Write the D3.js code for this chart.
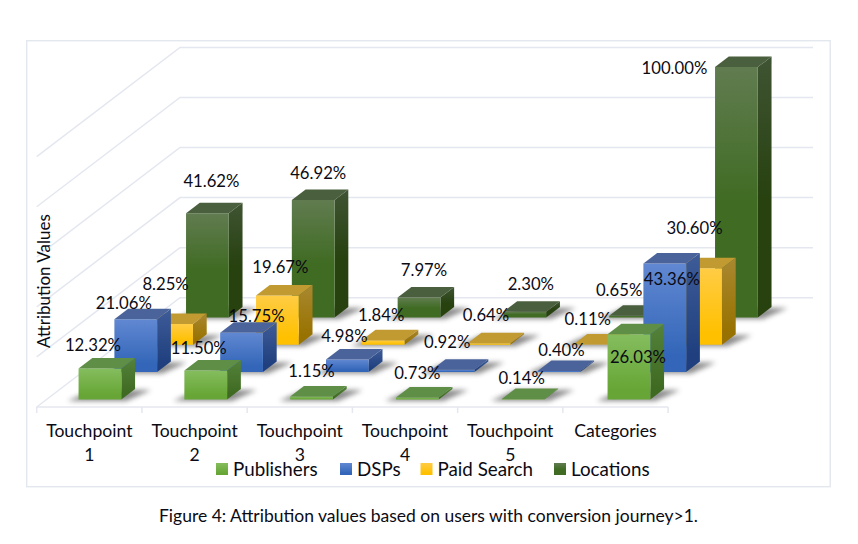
<!DOCTYPE html>
<html><head><meta charset="utf-8">
<script src="https://cdn.jsdelivr.net/npm/d3@7"></script>
<style>html,body{margin:0;background:#fff}svg{display:block}text{font-family:Lato,"Open Sans",sans-serif;fill:#0b0b14}</style>
</head><body><svg id="c" width="858" height="544"></svg>
<script>
const categories = ["Touchpoint 1","Touchpoint 2","Touchpoint 3","Touchpoint 4","Touchpoint 5","Categories"];
const series = ["Publishers","DSPs","Paid Search","Locations"];
const publishers = [12.32,11.50,1.15,0.73,0.14,26.03];
const dsps = [21.06,15.75,4.98,0.92,0.40,43.36];
const paidSearch = [8.25,19.67,1.84,0.64,0.11,30.60];
const locations = [41.62,46.92,7.97,2.30,0.65,100.00];
const yTicks = [0,20,40,60,80,100];
const values = [publishers,dsps,paidSearch,locations];

// label placement relative to each bar's front-top centre, per series then category
const labelNudge = [
 [[-7,-24],[-7,-23],[0,-26],[0,-25],[-1.5,-22],[9,22]],
 [[-12,-17],[15,-17],[-3,-24],[-6,-28],[2.5,-22],[7,15]],
 [[-6,-41],[3,-29],[-2,-26],[-3,-29],[-7,-26],[-6,-41]],
 [[4,-33],[5,-28],[5,-28],[6,-28],[-11.5,-26.5],[-62,0.5]]
];
const palette = [
 {f:["#85bd5e","#67a636"],s:["#54823a","#3f6a22"],t:"#5f8f47"},
 {f:["#6188d2","#3366b8"],s:["#3e5c98","#1f3f7e"],t:"#4a649b"},
 {f:["#ffcc45","#ffc000"],s:["#a98830","#987200"],t:"#c29a32"},
 {f:["#617c50","#3f6b22"],s:["#3f5433","#27410f"],t:"#4a5f3d"}
];
const FX=36.7, FW=631.4, BW=633, BARW=634.8, FY=407, DX=143.3, DY=109.3, LIFT=0.8;

const x=d3.scaleBand().domain(categories).range([FX-.7,FX-.7+BARW]).paddingInner(.596).paddingOuter(.298);
const xTick=d3.scaleBand().domain(categories).range([FX,FX+FW]);
const z=d3.scaleBand().domain(series).range([0,1]).paddingInner(.616).paddingOuter(.308);
const y=d3.scaleLinear().domain([0,100]).range([FY,FY-250.3]);
const P=(px,py,pz)=>[px+pz*DX, py-pz*DY];
const pts=a=>a.map(p=>p.join(",")).join(" ");

const svg=d3.select("#c");
const defs=svg.append("defs");
defs.append("filter").attr("id","blur").attr("x","-30%").attr("y","-60%").attr("width","160%").attr("height","220%")
  .append("feGaussianBlur").attr("stdDeviation",2.4);
palette.forEach((c,i)=>{
  [["f",c.f],["s",c.s]].forEach(([k,cols])=>{
    const g=defs.append("linearGradient").attr("id",k+i).attr("x1",0).attr("y1",0).attr("x2",0).attr("y2",1);
    g.append("stop").attr("offset","0%").attr("stop-color",cols[0]);
    g.append("stop").attr("offset",i===3?"55%":"85%").attr("stop-color",cols[1]);
    g.append("stop").attr("offset","100%").attr("stop-color",cols[1]);
  });
});

svg.append("rect").attr("x",26.7).attr("y",40.7).attr("width",803.5).attr("height",446)
  .attr("fill","#fff").attr("stroke","#e3e7ee").attr("stroke-width",1.4);

const gridC="#e4e7ef";
const grid=svg.append("g").attr("fill","none").attr("stroke",gridC).attr("stroke-width",1.5);
yTicks.forEach(t=>{
  const a=P(FX,y(t),0), b=P(FX,y(t),1), c=P(FX+BW,y(t),1);
  grid.append("polyline").attr("points",pts([a,b,c]));
});
grid.append("line").attr("x1",FX).attr("x2",FX+FW).attr("y1",FY).attr("y2",FY);
categories.forEach(c=>{
  const xx=xTick(c);
  grid.append("line").attr("x1",xx).attr("x2",xx).attr("y1",FY).attr("y2",FY+6);
});
grid.append("line").attr("x1",FX+FW).attr("x2",FX+FW).attr("y1",FY).attr("y2",FY+6);

const bw=x.bandwidth(), bd=z.bandwidth();
const order=d3.range(series.length).reverse();
order.forEach(si=>{
  const g=svg.append("g").attr("transform",`translate(0,${LIFT})`), z0=z(series[si]), z1=z0+bd;
  categories.forEach((cat,ci)=>{
    const x0=x(cat), x1=x0+bw, top=y(values[si][ci]);
    const fb=P(x0,FY,z0), fbr=P(x1,FY,z0), bbr=P(x1,FY,z1), bbl=P(x0,FY,z1);
    g.append("polygon").attr("fill","#707070").attr("opacity",.8).attr("filter","url(#blur)")
      .attr("points",pts([[fb[0]-11,fb[1]+1.5],[fbr[0]+5,fbr[1]+1.5],[bbr[0]+16,bbr[1]+1],[bbl[0],bbl[1]+1]]));
    const a=P(x0,top,z0), b=P(x1,top,z0), c=P(x1,top,z1), d=P(x0,top,z1);
    g.append("polygon").attr("points",pts([b,c,bbr,fbr])).attr("fill",`url(#s${si})`);
    g.append("polygon").attr("points",pts([a,b,fbr,fb])).attr("fill",`url(#f${si})`);
    g.append("polygon").attr("points",pts([a,b,c,d])).attr("fill",palette[si].t);
  });
});

const labels=svg.append("g").attr("font-size",16.7).attr("text-anchor","middle");
series.forEach((s,si)=>categories.forEach((cat,ci)=>{
  const v=values[si][ci], p=P(x(cat)+bw/2,y(v),z(s)), n=labelNudge[si][ci];
  labels.append("text").attr("x",p[0]+n[0]).attr("y",p[1]+n[1]+1.5).attr("dy","0.35em").text(v.toFixed(2)+"%");
}));

const xl=svg.append("g").attr("font-size",17.6).attr("text-anchor","middle");
categories.forEach(c=>{
  const parts=c.split(" "), cx=xTick(c)+xTick.bandwidth()/2;
  parts.forEach((t,i)=>xl.append("text").attr("x",cx).attr("y",431+i*24).attr("dy","0.35em").text(t));
});

svg.append("text").attr("transform","translate(44,281) rotate(-90)").attr("text-anchor","middle")
  .attr("dy","0.35em").attr("font-size",17).text("Attribution Values");

const legendX=[216,340,420.5,554];
series.forEach((s,i)=>{
  svg.append("rect").attr("x",legendX[i]).attr("y",463).attr("width",12).attr("height",12).attr("fill",`url(#f${i})`);
  svg.append("text").attr("x",legendX[i]+17).attr("y",469).attr("dy","0.35em").attr("font-size",18.8).text(s);
});

svg.append("text").attr("x",428.5).attr("y",516).attr("text-anchor","middle").attr("dy","0.35em")
  .attr("font-size",17.5).text("Figure 4: Attribution values based on users with conversion journey>1.");
</script></body></html>
